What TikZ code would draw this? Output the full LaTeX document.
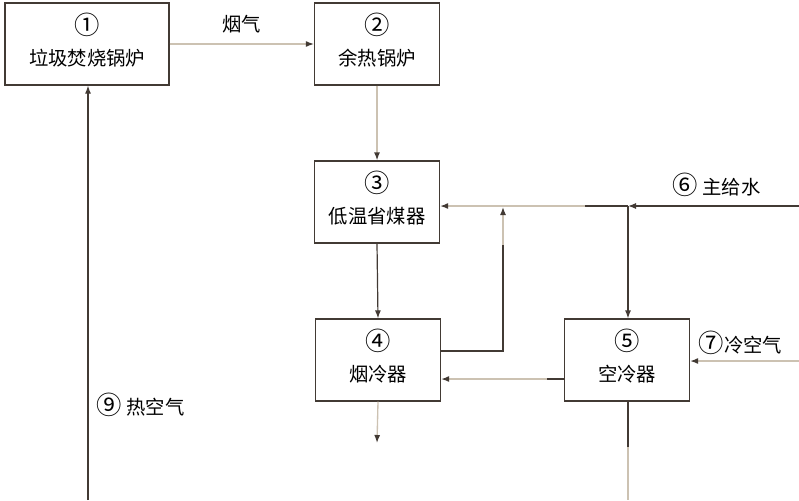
\documentclass[tikz,border=0pt]{standalone}
\usepackage{fontspec}
\newfontfamily\cjk{Noto Sans CJK SC}
\usetikzlibrary{arrows.meta}
\definecolor{dk}{RGB}{66,58,52}
\definecolor{tn}{RGB}{204,194,178}
\newcommand{\cnum}[1]{{\fontsize{19}{23.5}\selectfont #1}}
\newcommand{\twoline}[2]{\begin{tabular}{@{}c@{}}\cnum{#1}\\#2\end{tabular}}
\begin{document}
\begin{tikzpicture}[x=0.75pt, y=-0.75pt,
    font=\cjk\fontsize{14.5}{23.5}\selectfont,
    box/.style={draw=dk, line width=0.9pt, minimum width=125*0.75pt, minimum height=82*0.75pt, inner sep=0pt},
    dline/.style={draw=dk, line width=0.9pt},
    tline/.style={draw=tn, line width=1pt},
    tip/.style={-{Latex[length=6pt,width=4.5pt,color=dk]}}]
    \useasboundingbox (0,0) rectangle (799,500);
    % boxes
    \node[box, minimum width=164*0.75pt] (b1) at (87,44) {\twoline{①}{垃圾焚烧锅炉}};
    \node[box] (b2) at (377,44) {\twoline{②}{余热锅炉}};
    \node[box] (b3) at (377,202) {\twoline{③}{低温省煤器}};
    \node[box] (b4) at (378,360) {\twoline{④}{烟冷器}};
    \node[box] (b5) at (627,360) {\twoline{⑤}{空冷器}};
    % helper points
    \coordinate (w0) at (799,206);
    \coordinate (j1) at (628,206);
    \coordinate (w1) at (585,206);
    \coordinate (r1) at (503,351);
    \coordinate (r2) at (503,245);
    \coordinate (r3) at (503,207);
    \coordinate (s1) at (547,379);
    \coordinate (a0) at (799,361);
    \coordinate (o4) at (377,443);
    \coordinate (o5a) at (628,447);
    \coordinate (o5b) at (628,500);
    \coordinate (h0) at (88,500);
    % flue gas
    \draw[tline, tip] (b1.east) -- (b2.west) node[midway, above=4pt, text=black] {烟气};
    \draw[tline, tip] (b2.south) -- (b3.north);
    \draw[dline, tip] (b3.south) -- (b4.north);
    \draw[tline, tip] (b4.south) -- (o4);
    % feed water
    \draw[dline, tip] (w0) -- (j1);
    \draw[dline] (j1) -- (w1);
    \draw[tline, tip] (w1) -- (b3.east |- w1);
    \draw[dline, tip] (j1) -- (b5.north -| j1);
    \node[anchor=west] (l6) at (668,185) {\cnum{⑥} 主给水};
    % return from flue cooler
    \draw[dline] (b4.east |- r1) -- (r1) -- (r2);
    \draw[tline, tip] (r2) -- (r3);
    % air cooler
    \draw[dline] (b5.west |- s1) -- (s1);
    \draw[tline, tip] (s1) -- (b4.east |- s1);
    \draw[tline, tip] (a0) -- (b5.east |- a0);
    \node[anchor=west] (l7) at (694,343) {\cnum{⑦}冷空气};
    \draw[dline] (b5.south -| o5a) -- (o5a);
    \draw[tline] (o5a) -- (o5b);
    % hot air
    \draw[dline, tip] (h0) -- (b1.south -| h0);
    \node[anchor=west] (l9) at (92,405) {\cnum{⑨} 热空气};
\end{tikzpicture}
\end{document}
